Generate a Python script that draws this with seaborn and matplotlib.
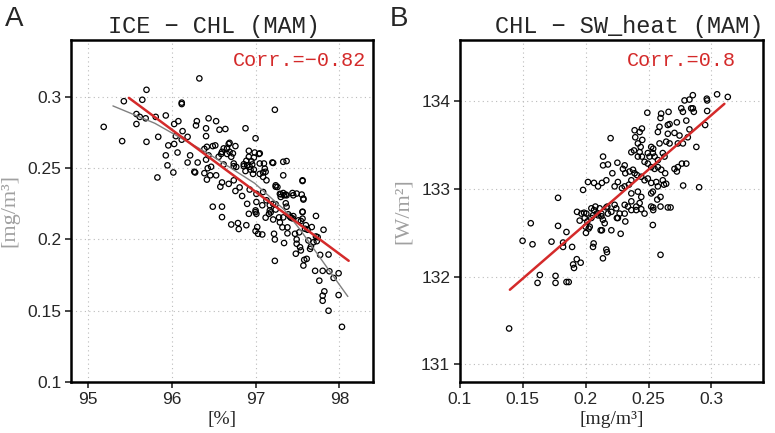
import matplotlib
matplotlib.use("Agg")
import matplotlib.pyplot as plt
import numpy as np
import pandas as pd
import seaborn as sns

# panel A: sea-ice concentration [%] vs chlorophyll [mg/m3], MAM
ice_pct = [95.19, 95.41, 95.43, 95.58, 95.62, 95.65, 95.69, 95.58, 95.70, 95.70,
           95.81, 95.84, 95.83, 95.93, 95.93, 95.95, 95.96, 96.02, 96.03, 96.03,
           96.07, 96.08, 96.12, 96.12, 96.12, 96.19, 96.19, 96.22, 96.27, 96.28,
           96.29, 96.30, 96.31, 96.33, 96.39, 96.39, 96.41, 96.41, 96.41, 96.42,
           96.42, 96.43, 96.44, 96.44, 96.46, 96.47, 96.49, 96.49, 96.52, 96.53,
           96.53, 96.56, 96.57, 96.58, 96.59, 96.60, 96.60, 96.60, 96.60, 96.62,
           96.62, 96.64, 96.66, 96.66, 96.68, 96.68, 96.69, 96.69, 96.71, 96.71,
           96.73, 96.74, 96.74, 96.74, 96.76, 96.76, 96.77, 96.79, 96.80, 96.81,
           96.84, 96.86, 96.86, 96.88, 96.88, 96.89, 96.89, 96.90, 96.90, 96.92,
           96.92, 96.92, 96.93, 96.93, 96.94, 96.95, 96.96, 96.97, 96.98, 96.98,
           96.99, 97.00, 97.00, 97.00, 97.00, 97.01, 97.01, 97.01, 97.02, 97.03,
           97.04, 97.05, 97.05, 97.05, 97.08, 97.08, 97.09, 97.09, 97.09, 97.10,
           97.11, 97.12, 97.12, 97.13, 97.13, 97.16, 97.17, 97.17, 97.18, 97.20,
           97.21, 97.21, 97.21, 97.22, 97.23, 97.23, 97.23, 97.24, 97.24, 97.24,
           97.24, 97.26, 97.28, 97.29, 97.29, 97.30, 97.30, 97.32, 97.33, 97.33,
           97.33, 97.33, 97.34, 97.34, 97.36, 97.36, 97.37, 97.37, 97.37, 97.38,
           97.38, 97.39, 97.41, 97.42, 97.44, 97.44, 97.45, 97.45, 97.47, 97.48,
           97.49, 97.49, 97.49, 97.51, 97.52, 97.53, 97.54, 97.54, 97.55, 97.56,
           97.56, 97.56, 97.56, 97.56, 97.57, 97.57, 97.57, 97.58, 97.59, 97.60,
           97.61, 97.62, 97.63, 97.65, 97.66, 97.67, 97.69, 97.71, 97.72, 97.72,
           97.73, 97.74, 97.76, 97.77, 97.80, 97.80, 97.80, 97.81, 97.82, 97.87,
           97.87, 97.88, 97.93, 97.99, 97.99, 98.03, 96.13, 96.05]
ice_chl = [0.279, 0.269, 0.297, 0.288, 0.286, 0.298, 0.285, 0.281, 0.305, 0.2685,
           0.286, 0.272, 0.2435, 0.287, 0.259, 0.252, 0.266, 0.247, 0.267, 0.281,
           0.261, 0.283, 0.296, 0.295, 0.270, 0.272, 0.254, 0.259, 0.2475, 0.247,
           0.280, 0.283, 0.254, 0.313, 0.2635, 0.2465, 0.278, 0.2725, 0.256, 0.265,
           0.242, 0.250, 0.285, 0.259, 0.245, 0.251, 0.2655, 0.223, 0.266, 0.283,
           0.245, 0.258, 0.277, 0.237, 0.260, 0.240, 0.223, 0.2157, 0.2615, 0.2526,
           0.2639, 0.2775, 0.260, 0.2639, 0.267, 0.239, 0.2678, 0.2615, 0.258, 0.2105,
           0.2604, 0.2533, 0.2415, 0.2514, 0.234, 0.2655, 0.2509, 0.2115, 0.2073, 0.2365,
           0.2305, 0.2528, 0.2514, 0.278, 0.248, 0.210, 0.2552, 0.225, 0.2521, 0.258,
           0.218, 0.2622, 0.251, 0.235, 0.249, 0.2549, 0.2526, 0.246, 0.2575, 0.249,
           0.261, 0.271, 0.2204, 0.2192, 0.2059, 0.232, 0.2263, 0.218, 0.2087, 0.204,
           0.260, 0.246, 0.2604, 0.2533, 0.2035, 0.224, 0.247, 0.2333, 0.2439, 0.2533,
           0.2497, 0.2153, 0.2475, 0.2275, 0.2415, 0.218, 0.2204, 0.224, 0.219, 0.254,
           0.2537, 0.214, 0.225, 0.204, 0.291, 0.200, 0.185, 0.237, 0.2247, 0.221,
           0.238, 0.2368, 0.2155, 0.232, 0.212, 0.2298, 0.2317, 0.2085, 0.2545, 0.245,
           0.2326, 0.2155, 0.1975, 0.231, 0.2315, 0.2254, 0.255, 0.223, 0.231, 0.2085,
           0.2043, 0.2176, 0.216, 0.2153, 0.2326, 0.2148, 0.231, 0.2164, 0.204, 0.190,
           0.197, 0.200, 0.2322, 0.2134, 0.205, 0.1946, 0.213, 0.1923, 0.2315, 0.241,
           0.2195, 0.2192, 0.2146, 0.2415, 0.228, 0.1817, 0.2287, 0.1857, 0.2075, 0.210,
           0.1864, 0.2068, 0.1993, 0.1934, 0.195, 0.2087, 0.198, 0.178, 0.2165, 0.2021,
           0.1988, 0.2016, 0.1711, 0.1892, 0.157, 0.1606, 0.178, 0.2068, 0.1636, 0.150,
           0.1894, 0.1777, 0.173, 0.1763, 0.161, 0.1387, 0.276, 0.2725]

# grey smooth curve in panel A
grey_x = [95.30, 95.80, 96.43, 96.99, 97.34, 97.53, 97.85, 98.10]
grey_y = [0.2937, 0.2815, 0.2605, 0.2394, 0.2210, 0.2070, 0.1805, 0.1600]

# panel B: chlorophyll [mg/m3] vs shortwave heating [W/m2], MAM
chl = [0.1391, 0.1498, 0.1563, 0.1577, 0.1617, 0.1635, 0.1728, 0.1760, 0.1760, 0.1780,
       0.1780, 0.1820, 0.1820, 0.1847, 0.1847, 0.1865, 0.1892, 0.1900, 0.1907, 0.1929,
       0.1931, 0.1952, 0.1960, 0.1966, 0.1979, 0.1987, 0.1992, 0.2000, 0.2002, 0.2005,
       0.2013, 0.2018, 0.2024, 0.2032, 0.2045, 0.2045, 0.2058, 0.2058, 0.2063, 0.2066,
       0.2066, 0.2077, 0.2087, 0.2098, 0.2098, 0.2111, 0.2119, 0.2124, 0.2125, 0.2129,
       0.2129, 0.2137, 0.2137, 0.2138, 0.2138, 0.2151, 0.2164, 0.2164, 0.2164, 0.2169,
       0.2172, 0.2177, 0.2177, 0.2198, 0.2204, 0.2204, 0.2212, 0.2230, 0.2230, 0.2243,
       0.2248, 0.2252, 0.2256, 0.2256, 0.2270, 0.2278, 0.2288, 0.2296, 0.2310, 0.2310,
       0.2310, 0.2310, 0.2315, 0.2315, 0.2336, 0.2344, 0.2349, 0.2363, 0.2363, 0.2363,
       0.2363, 0.2363, 0.2376, 0.2384, 0.2389, 0.2389, 0.2394, 0.2402, 0.2402, 0.2407,
       0.2415, 0.2415, 0.2415, 0.2429, 0.2429, 0.2429, 0.2437, 0.2442, 0.2442, 0.2442,
       0.2447, 0.2447, 0.2450, 0.2468, 0.2468, 0.2468, 0.2490, 0.2494, 0.2494, 0.2494,
       0.2508, 0.2521, 0.2521, 0.2521, 0.2521, 0.2521, 0.2534, 0.2534, 0.2534, 0.2537,
       0.2537, 0.2537, 0.2548, 0.2548, 0.2561, 0.2569, 0.2574, 0.2574, 0.2574, 0.2574,
       0.2587, 0.2587, 0.2595, 0.2595, 0.2595, 0.2595, 0.2600, 0.2601, 0.2613, 0.2613,
       0.2622, 0.2627, 0.2632, 0.2640, 0.2640, 0.2653, 0.2653, 0.2653, 0.2659, 0.2667,
       0.2667, 0.2675, 0.2706, 0.2706, 0.2725, 0.2725, 0.2733, 0.2733, 0.2746, 0.2760,
       0.2765, 0.2773, 0.2773, 0.2775, 0.2786, 0.2800, 0.2800, 0.2812, 0.2825, 0.2825,
       0.2839, 0.2852, 0.2852, 0.2860, 0.2880, 0.2902, 0.2950, 0.2963, 0.2966, 0.2966,
       0.3045, 0.3130]
sw_heat = [131.41, 132.41, 132.61, 132.37, 131.93, 132.02, 132.40, 132.01, 131.93, 132.58,
           132.90, 132.39, 132.34, 132.51, 131.94, 131.94, 132.34, 132.14, 132.10, 132.20,
           132.74, 132.64, 132.16, 132.72, 132.99, 132.73, 132.67, 132.57, 132.50, 132.72,
           132.63, 133.08, 132.55, 132.57, 132.67, 132.78, 132.70, 132.34, 132.38, 132.76,
           133.07, 132.80, 132.72, 132.70, 133.03, 132.78, 132.53, 132.72, 132.69, 132.53,
           133.07, 132.65, 132.21, 133.37, 133.27, 132.61, 132.79, 132.31, 133.10, 132.28,
           132.80, 132.72, 133.28, 133.58, 132.53, 132.74, 133.18, 132.82, 133.03, 132.78,
           132.67, 133.30, 132.67, 133.08, 132.72, 132.49, 133.01, 133.23, 132.72, 133.27,
           132.82, 133.03, 132.63, 133.18, 132.80, 133.05, 133.20, 132.86, 133.42, 132.95,
           132.76, 133.10, 133.22, 133.44, 133.67, 133.18, 133.59, 132.76, 132.80, 133.16,
           133.37, 133.52, 132.97, 132.84, 133.65, 133.42, 133.48, 133.14, 132.91, 132.77,
           133.69, 133.37, 133.56, 133.31, 133.10, 132.72, 133.87, 133.41, 133.29, 133.12,
           133.37, 133.48, 133.25, 133.07, 132.95, 132.80, 133.41, 132.59, 132.97, 133.46,
           132.79, 132.76, 133.23, 133.37, 133.08, 132.88, 133.65, 133.33, 133.25, 133.03,
           133.71, 133.52, 133.81, 132.91, 132.80, 132.25, 133.86, 133.22, 133.41, 133.10,
           133.05, 133.37, 133.18, 133.54, 133.06, 133.73, 133.63, 132.79, 133.88, 133.74,
           133.52, 132.79, 133.64, 133.23, 133.76, 133.20, 133.52, 133.25, 133.61, 133.92,
           133.29, 133.88, 133.52, 133.04, 134.01, 133.78, 133.29, 133.59, 134.02, 133.68,
           133.92, 134.07, 133.92, 133.88, 133.48, 133.02, 133.73, 134.03, 134.01, 133.89,
           134.08, 134.05]

# x span of the red least-squares lines
fit_span_a = [95.49, 98.11]
fit_span_b = [0.1397, 0.3103]

titles = ["ICE \u2212 CHL (MAM)", "CHL \u2212 SW_heat (MAM)"]
corr_labels = ["Corr.=\u22120.82", "Corr.=0.8"]
panel_letters = ["A", "B"]
xlabels = ["[%]", "[mg/m\u00b3]"]
ylabels = ["[mg/m\u00b3]", "[W/m\u00b2]"]

df_a = pd.DataFrame({"ice": ice_pct, "chl": ice_chl})
df_b = pd.DataFrame({"chl": chl, "sw": sw_heat})


def fit_line(x, y, span):
    k, b = np.polyfit(x, y, 1)
    xx = np.array(span)
    return xx, k * xx + b


sns.set_style("white")
plt.rcParams["font.family"] = ["Liberation Sans", "DejaVu Sans"]

RED = "#d42a2a"
fig = plt.figure(figsize=(7.75, 4.33), dpi=100)
ax1 = fig.add_axes([0.0916, 0.1178, 0.3897, 0.79])
ax2 = fig.add_axes([0.5935, 0.1178, 0.391, 0.79])

sns.scatterplot(data=df_a, x="ice", y="chl", ax=ax1, marker="o", s=15,
                facecolor="none", edgecolor="black", linewidth=0.9, zorder=3)
sns.lineplot(x=grey_x, y=grey_y, ax=ax1, color="gray", lw=1.0, zorder=4)
xa, ya = fit_line(ice_pct, ice_chl, fit_span_a)
sns.lineplot(x=xa, y=ya, ax=ax1, color=RED, lw=1.8, zorder=5)

sns.scatterplot(data=df_b, x="chl", y="sw", ax=ax2, marker="o", s=15,
                facecolor="none", edgecolor="black", linewidth=0.9, zorder=3)
xb, yb = fit_line(chl, sw_heat, fit_span_b)
sns.lineplot(x=xb, y=yb, ax=ax2, color=RED, lw=1.8, zorder=5)

ax1.set_xlim(94.8, 98.4)
ax1.set_ylim(0.1, 0.34)
ax1.set_xticks([95, 96, 97, 98])
ax1.set_yticks([0.1, 0.15, 0.2, 0.25, 0.3])
ax1.set_yticklabels(["0.1", "0.15", "0.2", "0.25", "0.3"])

ax2.set_xlim(0.1, 0.341)
ax2.set_ylim(130.8, 134.7)
ax2.set_xticks([0.1, 0.15, 0.2, 0.25, 0.3])
ax2.set_xticklabels(["0.1", "0.15", "0.2", "0.25", "0.3"])
ax2.set_yticks([131, 132, 133, 134])

corr_pos = [(0.977, 0.94), (0.91, 0.94)]
title_x = [0.473, 0.558]

for i, ax in enumerate([ax1, ax2]):
    ax.grid(True, linestyle=(0, (1, 3)), color="#bbbbbb", lw=0.8)
    for sp in ax.spines.values():
        sp.set_linewidth(1.8)
        sp.set_color("black")
    ax.tick_params(direction="out", length=4, width=1.2, labelsize=12.5, pad=3,
                   left=True, bottom=True)
    ax.set_xlabel(xlabels[i], family="Liberation Serif", fontsize=14, labelpad=3)
    ax.set_ylabel(ylabels[i], family="Liberation Serif", fontsize=16,
                  color="#a0a0a0", labelpad=6)
    ax.set_title(titles[i], family="Liberation Mono", fontsize=17, pad=5,
                 x=title_x[i])
    ax.text(corr_pos[i][0], corr_pos[i][1], corr_labels[i], transform=ax.transAxes,
            ha="right", va="center", color=RED, family="Liberation Mono", fontsize=14.5)

fig.text(0.006, 0.985, panel_letters[0], fontsize=20, va="top", ha="left")
fig.text(0.503, 0.985, panel_letters[1], fontsize=20, va="top", ha="left")

fig.savefig("out.png", dpi=100)
